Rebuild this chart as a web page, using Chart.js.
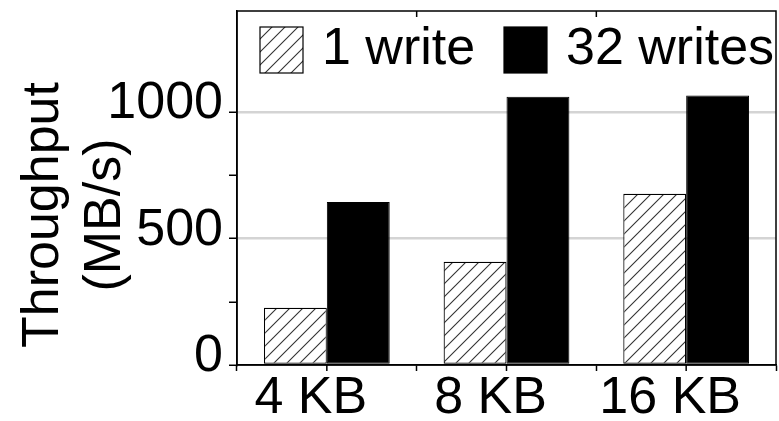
<!DOCTYPE html>
<html>
<head>
<meta charset="utf-8">
<script src="https://cdn.jsdelivr.net/npm/chart.js@4.4.1/dist/chart.umd.min.js"></script>
<style>
  html, body { margin: 0; padding: 0; background: #fff; }
  canvas { display: block; }
</style>
</head>
<body>
<canvas id="grafica" width="779" height="421"></canvas>
<script>
const categorias = ['4 KB', '8 KB', '16 KB'];
const unaEscritura = [226, 408, 677];
const treintaDosEscrituras = [645, 1061, 1066];
const etiquetasY = [0, 500, 1000];
const nombresSeries = ['1 write', '32 writes'];
const tituloY = ['Throughput', '(MB/s)'];

const fuente = "'Liberation Sans', Arial, Helvetica, sans-serif";

// patron rayado para la serie de 1 escritura
const crearRayado = () => {
    const c = document.createElement('canvas');
    c.width = 13; c.height = 13;
    const g = c.getContext('2d');
    g.fillStyle = '#fff';
    g.fillRect(0, 0, 13, 13);
    g.strokeStyle = '#333';
    g.lineWidth = 1.1;
    g.beginPath();
    g.moveTo(0, 13); g.lineTo(13, 0);
    g.moveTo(-2, 2); g.lineTo(2, -2);
    g.moveTo(11, 15); g.lineTo(15, 11);
    g.stroke();
    return g.createPattern(c, 'repeat');
};
const rayado = crearRayado();

// marco, marcas extra, leyenda y titulo del eje Y
const extras = {
    id: 'extras',
    afterDraw(chart) {
        const ctx = chart.ctx;
        const a = chart.chartArea;
        const x = chart.scales.x;
        ctx.save();
        ctx.strokeStyle = '#000';
        ctx.lineWidth = 1.5;
        ctx.strokeRect(a.left, a.top, a.right - a.left, a.bottom - a.top);

        // marcas en el centro de cada grupo (abajo) y entre grupos (arriba)
        ctx.beginPath();
        categorias.forEach((c, i) => {
            const px = x.getPixelForValue(i);
            ctx.moveTo(px, a.bottom); ctx.lineTo(px, a.bottom + 6);
            if (i > 0) {
                const borde = (x.getPixelForValue(i - 1) + px) / 2;
                ctx.moveTo(borde, a.top); ctx.lineTo(borde, a.top + 6);
            }
        });
        ctx.stroke();

        // leyenda
        const cajas = [260, 504];
        ctx.font = '52px ' + fuente;
        ctx.textBaseline = 'middle';
        ctx.textAlign = 'left';
        chart.data.datasets.forEach((ds, i) => {
            const bx = cajas[i];
            ctx.fillStyle = ds.backgroundColor;
            ctx.fillRect(bx, 27, 43, 46);
            ctx.lineWidth = 1.2;
            ctx.strokeStyle = '#000';
            ctx.strokeRect(bx, 27, 43, 46);
            ctx.fillStyle = '#000';
            ctx.fillText(ds.label, bx + 62, 50);
        });

        // titulo del eje Y en dos lineas
        ctx.textAlign = 'center';
        ctx.textBaseline = 'alphabetic';
        const bases = [58, 120];
        tituloY.forEach((t, i) => {
            ctx.save();
            ctx.translate(bases[i], 215);
            ctx.rotate(-Math.PI / 2);
            ctx.fillText(t, 0, 0);
            ctx.restore();
        });
        ctx.restore();
    }
};

new Chart(document.getElementById('grafica').getContext('2d'), {
    type: 'bar',
    data: {
        labels: categorias,
        datasets: [
            {
                label: nombresSeries[0],
                data: unaEscritura,
                backgroundColor: rayado,
                borderColor: '#000',
                borderWidth: 1.2,
                borderSkipped: false
            },
            {
                label: nombresSeries[1],
                data: treintaDosEscrituras,
                backgroundColor: '#000',
                borderColor: '#000',
                borderWidth: 1,
                borderSkipped: false
            }
        ]
    },
    options: {
        responsive: false,
        animation: false,
        devicePixelRatio: 1,
        categoryPercentage: 0.70,
        barPercentage: 1.0,
        layout: { padding: { top: 11, right: 3, left: 0, bottom: 0 } },
        scales: {
            x: {
                afterFit: (s) => { s.height = 56; s.paddingLeft = 0; s.paddingRight = 0; },
                grid: { display: true, drawOnChartArea: false, offset: true, tickLength: 6, tickColor: '#000', tickWidth: 1.5 },
                border: { color: '#000', width: 1.5 },
                ticks: { color: '#000', font: { size: 52, family: fuente }, padding: -4, labelOffset: -16, maxRotation: 0 }
            },
            y: {
                min: 0,
                max: 1400,
                afterFit: (s) => { s.width = 237; s.paddingTop = 0; s.paddingBottom = 0; },
                border: { color: '#000', width: 1.5 },
                grid: {
                    color: (c) => (c.tick && etiquetasY.includes(c.tick.value) && c.tick.value !== 0 ? '#d4d4d4' : 'rgba(0,0,0,0)'),
                    lineWidth: 2.5,
                    tickLength: 8,
                    tickWidth: 1.5,
                    tickColor: (c) => (c.tick && c.tick.value < 1400 ? '#000' : 'rgba(0,0,0,0)')
                },
                ticks: {
                    stepSize: 250,
                    color: '#000',
                    padding: 6,
                    labelOffset: -8,
                    font: { size: 52, family: fuente },
                    callback: (v) => (etiquetasY.includes(v) ? String(v) : '')
                }
            }
        },
        plugins: {
            legend: { display: false },
            tooltip: { enabled: false }
        }
    },
    plugins: [extras]
});
</script>
</body>
</html>
